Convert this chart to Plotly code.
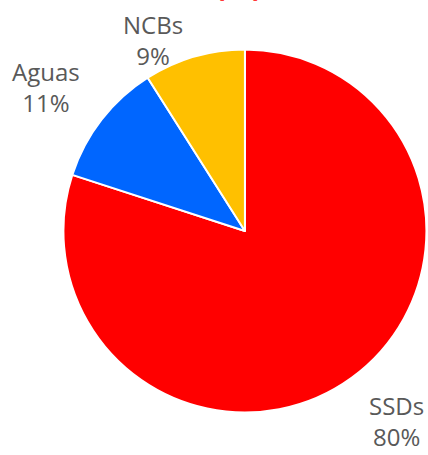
import plotly.graph_objects as go

labels = ["SSDs", "Aguas", "NCBs"]
values = [80, 11, 9]
colors = ["#FF0000", "#0066FF", "#FFC000"]

# label positions (paper coords) for the outside text
label_pos = {
    "SSDs": (396 / 428, 1 - 421 / 455),
    "Aguas": (46 / 428, 1 - 87 / 455),
    "NCBs": (153 / 428, 1 - 40 / 455),
}

total = sum(values)

fig = go.Figure(go.Pie(
    labels=labels,
    values=values,
    sort=False,
    direction="clockwise",
    rotation=0,
    marker=dict(colors=colors, line=dict(color="white", width=2)),
    textinfo="none",
    hoverinfo="label+percent",
    showlegend=False,
    domain=dict(x=[0.148, 0.9965], y=[0.0934, 0.8912]),
))

for lab, val in zip(labels, values):
    x, y = label_pos[lab]
    fig.add_annotation(
        text=f"{lab}<br>{round(100 * val / total)}%",
        x=x, y=y, xref="paper", yref="paper",
        xanchor="center", yanchor="middle",
        showarrow=False,
        font=dict(family="Open Sans", size=24, color="#595959"),
    )

# title cut off at the top of the picture (only the bottom shows, as in the source)
fig.add_annotation(
    text="<b>(%)</b>",
    x=238 / 428, y=1 - 7 / 455, xref="paper", yref="paper",
    xanchor="center", yanchor="bottom",
    showarrow=False,
    font=dict(family="Open Sans", size=30, color="#FF0000"),
)

fig.update_layout(
    width=428,
    height=455,
    margin=dict(t=0, b=0, l=0, r=0),
    paper_bgcolor="white",
    plot_bgcolor="white",
)

# drop the default page margin so the figure sits at the window's corner
fig.write_html(
    "out.html",
    config={"displayModeBar": False},
    post_script="document.body.style.margin='0';",
)
